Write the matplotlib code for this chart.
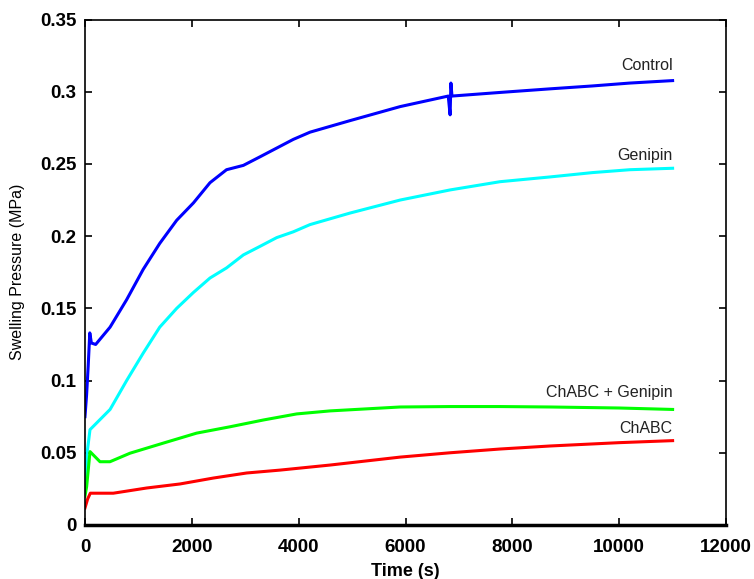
import matplotlib.pyplot as plt

# time (s) and swelling pressure (MPa)
t_control = [0, 30, 60, 90, 120, 200, 470, 780, 1090, 1400, 1717, 2030, 2340, 2650,
             2965, 3280, 3590, 3900, 4213, 4963, 5900, 6800, 6835, 6850, 6870, 7770,
             8708, 9500, 10200, 11000]
p_control = [0.075, 0.090, 0.110, 0.133, 0.126, 0.125, 0.137, 0.156, 0.177, 0.195,
             0.211, 0.223, 0.237, 0.246, 0.249, 0.255, 0.261, 0.267, 0.272, 0.280,
             0.2897, 0.297, 0.284, 0.306, 0.297, 0.2995, 0.302, 0.304, 0.306, 0.3077]

t_genipin = [0, 40, 94, 470, 780, 1090, 1400, 1717, 2030, 2340, 2650, 2965, 3280, 3590,
             3900, 4213, 4963, 5900, 6835, 7770, 8708, 9500, 10200, 11000]
p_genipin = [0.025, 0.050, 0.066, 0.080, 0.100, 0.119, 0.137, 0.150, 0.161, 0.171,
             0.178, 0.187, 0.193, 0.199, 0.203, 0.208, 0.216, 0.225, 0.232, 0.2377,
             0.241, 0.244, 0.246, 0.247]

t_chabc_gen = [0, 31, 94, 281, 468, 843, 1467, 2090, 2715, 3340, 3964, 4590, 5900,
               6835, 7770, 8708, 10000, 11000]
p_chabc_gen = [0.020, 0.0265, 0.0508, 0.0438, 0.0438, 0.0497, 0.0567, 0.0636, 0.068,
               0.0727, 0.0769, 0.079, 0.0817, 0.082, 0.082, 0.0817, 0.081, 0.080]

t_chabc = [0, 50, 100, 530, 1154, 1779, 2403, 3027, 3652, 4588, 5900, 6835, 7770,
           8708, 10000, 11000]
p_chabc = [0.0118, 0.018, 0.022, 0.022, 0.0256, 0.0284, 0.0325, 0.036, 0.038, 0.0415,
           0.047, 0.050, 0.0526, 0.0547, 0.057, 0.0584]

series = [
    (t_control, p_control, "#0000ff", "Control", 0.318),
    (t_genipin, p_genipin, "#00ffff", "Genipin", 0.2555),
    (t_chabc_gen, p_chabc_gen, "#00ff00", "ChABC + Genipin", 0.092),
    (t_chabc, p_chabc, "#ff0000", "ChABC", 0.067),
]

plt.rcParams["font.family"] = ["Liberation Sans", "DejaVu Sans"]

fig = plt.figure(figsize=(7.54, 5.79), dpi=100)
ax = fig.add_axes([0.1127, 0.0933, 0.8502, 0.873])

for t, p, c, name, ylab in series:
    ax.plot(t, p, color=c, lw=2.2)
    ax.text(11000, ylab, name, ha="right", va="center", fontsize=11.5, color="#222222")

ax.set_xlim(0, 12000)
ax.set_ylim(0, 0.35)
ax.set_xticks(range(0, 12001, 2000))
ax.set_yticks([0, 0.05, 0.1, 0.15, 0.2, 0.25, 0.3, 0.35])
ax.set_yticklabels(["0", "0.05", "0.1", "0.15", "0.2", "0.25", "0.3", "0.35"])
ax.tick_params(direction="in", top=True, right=True, length=5, width=1.2,
               labelsize=13.5)
ax.tick_params(axis="y", pad=6)
ax.tick_params(axis="x", pad=10)
for lbl in ax.get_xticklabels() + ax.get_yticklabels():
    lbl.set_fontweight("bold")
for s in ax.spines.values():
    s.set_linewidth(1.2)
ax.spines["bottom"].set_linewidth(2.5)

ax.set_xlabel("Time (s)", fontsize=13, fontweight="bold", labelpad=5)
ax.set_ylabel("Swelling Pressure (MPa)", fontsize=11.5)
ax.yaxis.set_label_coords(-0.094, 0.5)

fig.savefig("out.png", dpi=100)
